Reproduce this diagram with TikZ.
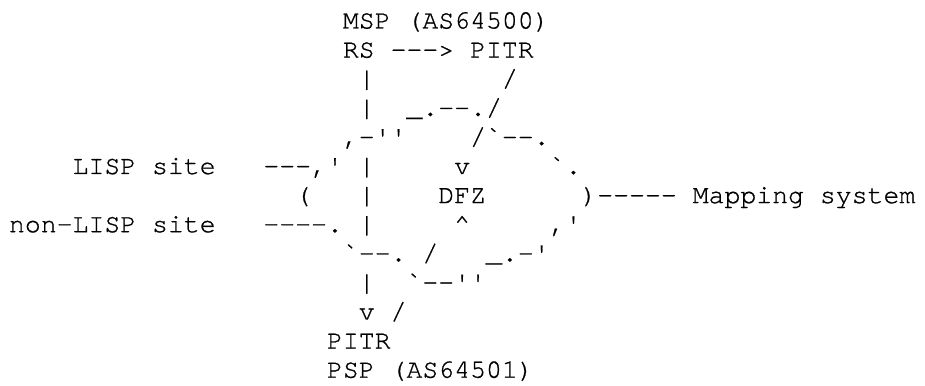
\documentclass[tikz,border=0pt]{standalone}
\usepackage{fontspec}
\setmonofont{TeX Gyre Cursor}[FakeBold=0.8]
\newcommand\asciiseg[4]{\node[txt] (#1) at ({9+#2*15.9},{385-28.5-29.1*(#3-1)}) {#4};}
\begin{document}
\begin{tikzpicture}[x=1pt,y=1pt,
  txt/.style={anchor=base west, inner sep=0pt, outer sep=0pt,
    font=\fontsize{26.5}{29}\ttfamily, text=black}]
\useasboundingbox (0,0) rectangle (925,385);
% row 1-2
\asciiseg{msp}{21}{1}{MSP (AS64500)}
\asciiseg{rs}{21}{2}{RS ---> PITR}
% row 3
\asciiseg{bar3}{22}{3}{|}
\asciiseg{sl3}{31}{3}{/}
% row 4
\asciiseg{bar4}{22}{4}{|}
\asciiseg{arc4}{25}{4}{\_.--./}
% row 5
\asciiseg{arc5a}{21}{5}{,-''}
\asciiseg{arc5b}{29}{5}{/`--.}
% row 6
\asciiseg{lisp}{4}{6}{LISP site}
\asciiseg{lnk6}{16}{6}{---,'}
\asciiseg{bar6}{22}{6}{|}
\asciiseg{v6}{28}{6}{v}
\asciiseg{arc6}{34}{6}{`.}
% row 7
\asciiseg{par7}{18}{7}{(}
\asciiseg{bar7}{22}{7}{|}
\asciiseg{dfz}{27}{7}{DFZ}
\asciiseg{lnk7}{36}{7}{)-----}
\asciiseg{map}{43}{7}{Mapping system}
% row 8
\asciiseg{nonlisp}{0}{8}{non-LISP site}
\asciiseg{lnk8}{16}{8}{----.}
\asciiseg{bar8}{22}{8}{|}
\asciiseg{up8}{28}{8}{\textasciicircum}
\asciiseg{arc8}{34}{8}{,'}
% row 9
\asciiseg{arc9a}{21}{9}{`--.}
\asciiseg{sl9}{26}{9}{/}
\asciiseg{arc9b}{30}{9}{\_.-'}
% row 10
\asciiseg{bar10}{22}{10}{|}
\asciiseg{arc10}{25}{10}{`--''}
% row 11
\asciiseg{v11}{22}{11}{v}
\asciiseg{sl11}{24}{11}{/}
% row 12-13
\asciiseg{pitr}{20}{12}{PITR}
\asciiseg{psp}{20}{13}{PSP (AS64501)}
\end{tikzpicture}
\end{document}
